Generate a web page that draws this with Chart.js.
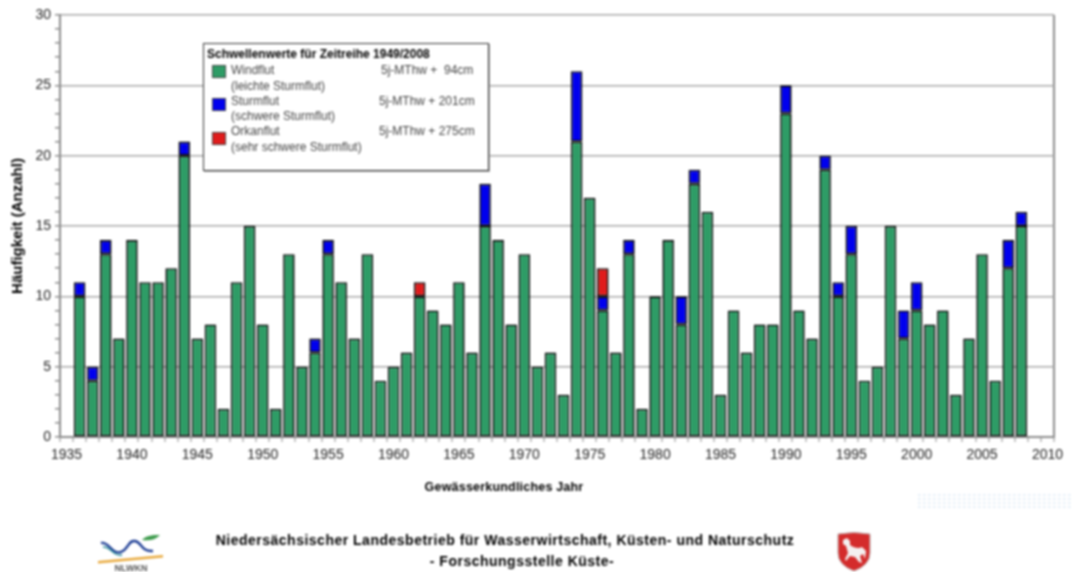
<!DOCTYPE html>
<html lang="de">
<head>
<meta charset="utf-8">
<title>Häufigkeit von Sturmfluten</title>
<script src="https://cdn.jsdelivr.net/npm/chart.js@4"></script>
<style>
html,body{margin:0;padding:0;background:#fff;}
#page{position:relative;width:1072px;height:572px;overflow:hidden;background:#fff;font-family:"Liberation Sans",Arial,sans-serif;filter:blur(0.8px);}
#c{position:absolute;left:0;top:0;}
.t{position:absolute;white-space:pre;line-height:1;}
.f{font-weight:bold;font-size:14px;color:#000;transform:translateX(-50%);letter-spacing:.5px;}
#legend{position:absolute;left:203px;top:43px;width:284px;height:126px;background:#fff;border:1px solid #333;box-shadow:1px 1px 0 #aaa;}
#legend .t{font-size:12px;color:#444;}
#legend .h{font-weight:bold;color:#000;font-size:12px;}
#legend i{position:absolute;left:8px;width:12px;height:11px;border:1px solid #444;}
svg{position:absolute;}
</style>
</head>
<body>
<div id="page">
<canvas id="c" width="1072" height="572"></canvas>

<div id="legend">
  <div class="t h" style="left:3px;top:4px">Schwellenwerte für Zeitreihe 1949/2008</div>
  <i style="top:21px;background:#2e9c66"></i>
  <div class="t" style="left:27px;top:20px">Windflut</div>
  <div class="t" style="left:27px;top:36px">(leichte Sturmflut)</div>
  <div class="t" style="left:177px;top:20px">5j-MThw +  94cm</div>
  <i style="top:54px;background:#0000ee"></i>
  <div class="t" style="left:27px;top:51px">Sturmflut</div>
  <div class="t" style="left:27px;top:66px">(schwere Sturmflut)</div>
  <div class="t" style="left:175px;top:51px">5j-MThw + 201cm</div>
  <i style="top:88px;background:#e01c1c"></i>
  <div class="t" style="left:27px;top:81px">Orkanflut</div>
  <div class="t" style="left:27px;top:97px">(sehr schwere Sturmflut)</div>
  <div class="t" style="left:175px;top:81px">5j-MThw + 275cm</div>
</div>

<div class="t f" style="left:504px;top:481px;font-size:12.5px;letter-spacing:.2px">Gewässerkundliches Jahr</div>
<div class="t f" style="left:505px;top:533px">Niedersächsischer Landesbetrieb für Wasserwirtschaft, Küsten- und Naturschutz</div>
<div class="t f" style="left:522px;top:554px;">- Forschungsstelle Küste-</div>

<svg style="left:95px;top:532px" width="70" height="40" viewBox="0 0 70 40">
  <path d="M6 11 C14 9 17 23 26 20 C34 17 33 8 40 9 C47 10 46 20 58 19" fill="none" stroke="#1f3f95" stroke-width="2.4"/>
  <path d="M8 15 C16 14 18 25 27 23" fill="none" stroke="#2f8f9a" stroke-width="1.4"/>
  <path d="M47 8 C52 3 58 3 65 3 C60 8 54 9 47 8Z" fill="#3b9a4a"/>
  <path d="M3 29 L68 23 L68 25.5 L3 31.5Z" fill="#e8a93c"/>
  <text x="36" y="39" text-anchor="middle" style="font-family:'Liberation Sans',Arial,sans-serif;font-size:9px;font-weight:bold" fill="#555">NLWKN</text>
</svg>

<svg style="left:836px;top:531px" width="36" height="41" viewBox="0 0 36 41">
  <path d="M2 3 Q18 0 34 3 L34 22 Q34 34 18 40 Q2 34 2 22Z" fill="#d42b2b" stroke="#b8b0b0" stroke-width="1"/>
  <path d="M7 9 L11 7 L14 10 L14 14 C18 17 23 18 26 16 L30 20 L29 28 L27 23 L24 25 L26 32 L23 31 L19 26 L14 25 L10 30 L9 28 L12 22 L10 15 L7 13Z" fill="#f4f0f0"/>
</svg>

<svg style="left:918px;top:494px" width="154" height="14">
  <defs><pattern id="d" width="5" height="4" patternUnits="userSpaceOnUse"><rect width="2.5" height="2" fill="#e6eff8"/></pattern></defs>
  <rect width="154" height="14" fill="url(#d)"/>
</svg>
</div>

<script>
const years = [1935,1936,1937,1938,1939,1940,1941,1942,1943,1944,1945,1946,1947,1948,1949,
  1950,1951,1952,1953,1954,1955,1956,1957,1958,1959,1960,1961,1962,1963,1964,
  1965,1966,1967,1968,1969,1970,1971,1972,1973,1974,1975,1976,1977,1978,1979,
  1980,1981,1982,1983,1984,1985,1986,1987,1988,1989,1990,1991,1992,1993,1994,
  1995,1996,1997,1998,1999,2000,2001,2002,2003,2004,2005,2006,2007,2008,2009,2010];
const windflut = [null,10,4,13,7,14,11,11,12,20,7,8,2,11,15,
  8,2,13,5,6,13,11,7,13,4,5,6,10,9,8,
  11,6,15,14,8,13,5,6,3,21,17,9,6,13,2,
  10,14,8,18,16,3,9,6,8,8,23,9,7,19,10,
  13,4,5,15,7,9,8,9,3,7,13,4,12,15,null,null];
const sturmflut = [null,1,1,1,null,null,null,null,null,1,null,null,null,null,null,
  null,null,null,null,1,1,null,null,null,null,null,null,null,null,null,
  null,null,3,null,null,null,null,null,null,5,null,1,null,1,null,
  null,null,2,1,null,null,null,null,null,null,2,null,null,1,1,
  2,null,null,null,2,2,null,null,null,null,null,null,2,1,null,null];
const orkanflut = [null,null,null,null,null,null,null,null,null,null,null,null,null,null,null,
  null,null,null,null,null,null,null,null,null,null,null,null,1,null,null,
  null,null,null,null,null,null,null,null,null,null,null,2,null,null,null,
  null,null,null,null,null,null,null,null,null,null,null,null,null,null,null,
  null,null,null,null,null,null,null,null,null,null,null,null,null,null,null,null];
const seriesNames = ["Windflut","Sturmflut","Orkanflut"];
const yTitle = "Häufigkeit (Anzahl)";

const axisGrey = "#8c8c8c";
const gridGrey = "#a8a8a8";
const barStyle = {borderColor:"#000000",borderWidth:1.6,borderSkipped:false,barPercentage:0.88,categoryPercentage:1,stack:"s"};

new Chart(document.getElementById("c"),{
  type:"bar",
  data:{labels:years,datasets:[
    {label:seriesNames[0],data:windflut,backgroundColor:"#2e9c66",...barStyle},
    {label:seriesNames[1],data:sturmflut,backgroundColor:"#0000ee",...barStyle},
    {label:seriesNames[2],data:orkanflut,backgroundColor:"#e01c1c",...barStyle}
  ]},
  options:{
    responsive:false,animation:false,
    layout:{padding:{left:0,right:18,top:15,bottom:88}},
    plugins:{legend:{display:false},tooltip:{enabled:false}},
    scales:{
      x:{
        stacked:true,
        grid:{offset:true,tickLength:5,tickColor:axisGrey,tickWidth:1,lineWidth:2,
          color:c=>c.type==="tick"?"rgba(0,0,0,0)":axisGrey},
        border:{color:axisGrey,width:2},
        ticks:{autoSkip:false,maxRotation:0,minRotation:0,padding:5,color:"#222",
          font:{family:"Liberation Sans",size:14},
          callback(v){const y=this.getLabelForValue(v);return y%5===0?String(y):"";}},
        afterFit(s){s.height=47;}
      },
      y:{
        stacked:true,min:0,max:30,
        grid:{tickLength:5,tickColor:axisGrey,lineWidth:1.5,
          color:c=>c.tick&&c.tick.value%5===0?gridGrey:"rgba(0,0,0,0)"},
        border:{color:axisGrey,width:2},
        ticks:{stepSize:1,autoSkip:false,padding:4,color:"#222",
          font:{family:"Liberation Sans",size:14},
          callback:v=>v%5===0?String(v):""},
        title:{display:true,text:yTitle,color:"#000",padding:{top:9,bottom:0},
          font:{family:"Liberation Sans",size:15,weight:"bold"}},
        afterFit(s){s.width=60;}
      }
    }
  }
});
</script>
</body>
</html>
